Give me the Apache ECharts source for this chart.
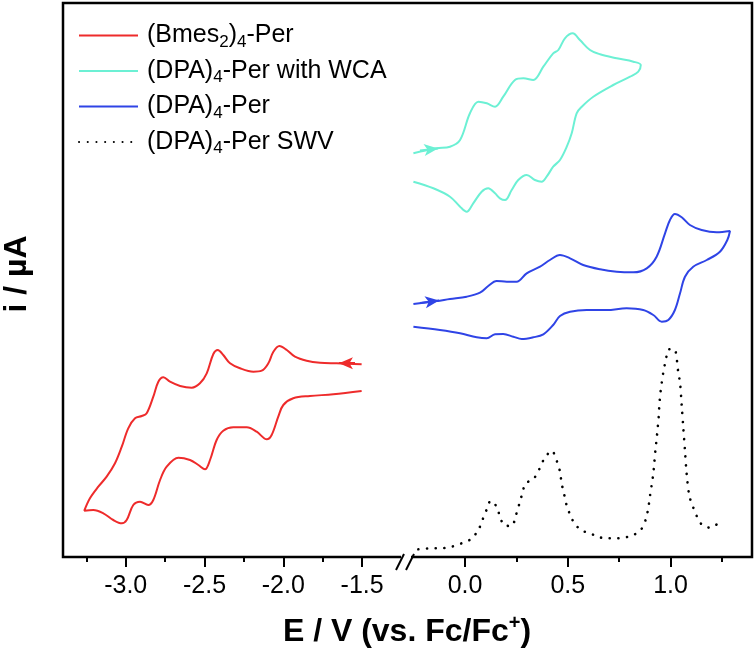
<!DOCTYPE html>
<html><head><meta charset="utf-8">
<script src="https://cdn.jsdelivr.net/npm/echarts@6/dist/echarts.min.js"></script>
<style>html,body{margin:0;padding:0;background:#fff}#c{width:756px;height:662px}</style>
</head><body><div id="c"></div>
<script>
// ---- data (E in V vs Fc/Fc+, i in arbitrary units) ----
const redE = [-1.503,-1.661,-1.767,-1.852,-1.926,-1.978,-2.025,-2.063,-2.095,-2.137,-2.190,-2.275,-2.338,-2.381,-2.416,-2.444,-2.486,-2.529,-2.581,-2.655,-2.719,-2.761,-2.793,-2.825,-2.867,-2.898,-2.941,-2.984,-3.025,-3.068,-3.121,-3.174,-3.227,-3.263,
  -3.206,-3.142,-3.079,-3.025,-2.994,-2.952,-2.909,-2.857,-2.825,-2.782,-2.740,-2.666,-2.592,-2.539,-2.497,-2.465,-2.423,-2.381,-2.317,-2.232,-2.169,-2.105,-2.074,-2.032,-2.000,-1.937,-1.831,-1.683,-1.503];
const redI = [192.7,193.7,194.3,196.3,200.3,207,211,205.3,193.7,186.3,185.3,188.7,193.7,202,207,203,183.7,173.7,169.3,171,175.3,179.7,175.3,160.3,143.7,141,138.7,128.7,110.3,93.7,80.3,70.3,58.7,46.3,
  47,43.7,37,33.7,37,52,55.3,52,57,77,90.3,99.3,97,92,87.7,97,117,126.3,129.7,129.7,125.3,117.7,122,140.3,152,158.7,161,162.7,166];

const wcaE = [-0.251,-0.138,-0.073,-0.024,0.024,0.065,0.106,0.146,0.186,0.243,0.284,0.332,0.381,0.429,0.454,0.486,0.524,0.559,0.608,0.657,0.738,0.819,0.855,
  0.843,0.803,0.721,0.624,0.568,0.543,0.519,0.495,0.462,0.429,0.397,0.373,0.340,0.300,0.259,0.227,0.195,0.170,0.146,0.113,0.081,0.040,0.008,-0.024,-0.073,-0.154,-0.251];
const wcaI = [403.7,408.7,410.3,417,443.7,455.3,453.7,450.3,460.3,477,478.7,477,490.3,503.7,507,518.7,523.7,517,507,502.7,498.7,495.3,492,
  485.3,480.3,472,460.3,450.3,443.7,423.7,410.3,397,390.3,380.3,375.3,377,382,377,367,357,358.7,363.7,368.7,365.3,353.7,345.3,350.3,360.3,368.7,375.3];

const dpaE = [-0.251,-0.138,-0.073,0.008,0.073,0.113,0.154,0.203,0.251,0.300,0.365,0.413,0.462,0.511,0.575,0.657,0.738,0.819,0.884,0.932,0.973,0.997,1.021,1.054,1.094,1.151,1.224,1.289,
  1.276,1.240,1.176,1.110,1.070,1.046,1.021,0.989,0.957,0.916,0.867,0.786,0.689,0.592,0.511,0.462,0.429,0.381,0.332,0.276,0.235,0.186,0.146,0.106,0.057,-0.024,-0.122,-0.251];
const dpaI = [253,256,258,260.3,264.3,271,276,275.3,275.3,283.7,290.3,297,302,298.7,292,287.7,285.3,284.7,288.7,300.3,323.7,337,343,339.7,332,327,324.7,326,
  317,305.3,297,290.3,280.3,263.7,247,237,235.3,242,247,248.7,247,247,245.3,241,232,222.7,219.7,218,220.3,223,222.7,218.7,219.7,223.7,227,230.3];

const swvE = [-0.227,-0.162,-0.118,-0.065,-0.016,0.028,0.065,0.086,0.106,0.125,0.154,0.170,0.191,0.227,0.248,0.264,0.279,0.295,0.332,0.361,0.384,0.422,0.446,0.462,0.470,0.483,0.495,0.514,0.535,0.572,0.605,0.643,0.692,0.738,0.783,0.819,0.855,0.880,0.892,0.900,0.908,0.916,0.921,0.926,0.932,0.937,0.942,0.945,0.950,0.957,0.965,0.976,0.992,1.018,1.031,1.037,1.046,1.054,1.062,1.070,1.078,1.091,1.110,1.130,1.154,1.192,1.232];
const swvI = [7.7,8.7,8.7,10.3,13.7,17.7,27,37.7,47.7,56.3,50.3,40.3,31.7,31,42,53,63.7,73.7,77.7,87.7,97.7,106.3,96.3,85.3,73.7,62,51.3,41,32.7,26,24.3,20.3,18.7,18.7,19.7,22,27,38,49.7,61.3,72,83.7,94.7,106.3,117.7,128.7,139.7,151,163,174.3,185,196.3,207.7,208,196.3,185,174.3,151.7,128.7,106.3,83.7,61.3,49.7,39.7,32,29.3,33.7];

// scan-direction arrows (from, to)
const redArrow = [[-1.545,193.8],[-1.647,193.8]];
const wcaArrow = [[-0.219,406.5],[-0.131,408.5]];
const dpaArrow = [[-0.219,254],[-0.126,256.5]];

const leftRange = [-3.398,-1.217];
const rightRange = [-0.2836,1.396];
const leftTicks = [-3.0,-2.5,-2.0,-1.5];
const leftMinor = [-3.25,-2.75,-2.25,-1.75];
const rightTicks = [0.0,0.5,1.0];
const rightMinor = [0.25,0.75,1.25];
const iRange = [0,554];

const names = ['(Bmes2)4-Per','(DPA)4-Per with WCA','(DPA)4-Per','(DPA)4-Per SWV'];
const richNames = {
  '(Bmes2)4-Per':'{n|(Bmes}{s|2}{n|)}{s|4}{n|-Per}',
  '(DPA)4-Per with WCA':'{n|(DPA)}{s|4}{n|-Per with WCA}',
  '(DPA)4-Per':'{n|(DPA)}{s|4}{n|-Per}',
  '(DPA)4-Per SWV':'{n|(DPA)}{s|4}{n|-Per SWV}'
};
const colors = {red:'#ee2b2b', cyan:'#6cf0d4', blue:'#2f44e6', black:'#000'};

function zip(a,b){return a.map((v,i)=>[v,b[i]]);}
const FONT = 'Liberation Sans, Arial, sans-serif';

function mkX(grid, range, ticks, minor){
  return {type:'value', gridIndex:grid, min:range[0], max:range[1], position:'bottom',
    axisLine:{show:false}, splitLine:{show:false}, minorTick:{show:false},
    axisTick:{show:true, inside:false, length: minor?5:10, lineStyle:{color:'#000', width:2}, customValues:ticks},
    axisLabel:{show:!minor, customValues:ticks, formatter:v=>v.toFixed(1), fontSize:25, fontFamily:FONT, color:'#000', margin:17}};
}
function mkArrow(arr, color){
  return {silent:true, symbol:['none','arrow'], symbolSize:[9,14], label:{show:false},
    lineStyle:{color:color, width:2, type:'solid'}, emphasis:{disabled:true},
    data:[[{coord:arr[0]},{coord:arr[1]}]]};
}

const chart = echarts.init(document.getElementById('c'), null, {renderer:'canvas'});
chart.setOption({
  animation:false,
  backgroundColor:'#fff',
  grid:[
    {left:63, right:756-406.7, top:3, bottom:662-557},
    {left:406.7, right:4, top:3, bottom:662-557}
  ],
  xAxis:[
    mkX(0, leftRange, leftTicks, false),
    mkX(0, leftRange, leftMinor, true),
    mkX(1, rightRange, rightTicks, false),
    mkX(1, rightRange, rightMinor, true)
  ],
  yAxis:[
    {type:'value', gridIndex:0, min:iRange[0], max:iRange[1], show:false},
    {type:'value', gridIndex:1, min:iRange[0], max:iRange[1], show:false}
  ],
  legend:{
    data:names, orient:'vertical', left:73, top:18, itemGap:8, itemWidth:59, itemHeight:14,
    selectedMode:false,
    itemStyle:{opacity:0, borderWidth:0, color:'rgba(0,0,0,0)'},
    formatter:n=>richNames[n],
    textStyle:{fontFamily:FONT, fontSize:25, color:'#000', padding:[0,0,0,4],
      rich:{n:{fontFamily:FONT, fontSize:25, color:'#000', lineHeight:30},
            s:{fontFamily:FONT, fontSize:17, color:'#000', lineHeight:30, verticalAlign:'bottom'}}}
  },
  series:[
    {name:names[0], type:'line', xAxisIndex:0, yAxisIndex:0, data:zip(redE,redI), showSymbol:false, symbol:'none', smooth:0.35,
      lineStyle:{color:colors.red, width:2}, itemStyle:{color:colors.red}, markLine:mkArrow(redArrow, colors.red)},
    {name:names[1], type:'line', xAxisIndex:2, yAxisIndex:1, data:zip(wcaE,wcaI), showSymbol:false, symbol:'none', smooth:0.35,
      lineStyle:{color:colors.cyan, width:2}, itemStyle:{color:colors.cyan}, markLine:mkArrow(wcaArrow, colors.cyan)},
    {name:names[2], type:'line', xAxisIndex:2, yAxisIndex:1, data:zip(dpaE,dpaI), showSymbol:false, symbol:'none', smooth:0.35,
      lineStyle:{color:colors.blue, width:2}, itemStyle:{color:colors.blue}, markLine:mkArrow(dpaArrow, colors.blue)},
    {name:names[3], type:'line', xAxisIndex:2, yAxisIndex:1, data:zip(swvE,swvI), showSymbol:false, symbol:'none', smooth:0.3,
      lineStyle:{color:'#000', width:2.6, type:[0.1,8.6], cap:'round'}, itemStyle:{color:'#000'}}
  ],
  graphic:[
    {type:'rect', z:100, shape:{x:63, y:3, width:689, height:554}, style:{fill:null, stroke:'#000', lineWidth:2.5}, silent:true},
    {type:'rect', z:101, shape:{x:401, y:553, width:10, height:8}, style:{fill:'#fff', stroke:null}, silent:true},
    {type:'line', z:102, shape:{x1:396, y1:570, x2:404, y2:554}, style:{stroke:'#000', lineWidth:2}, silent:true},
    {type:'line', z:102, shape:{x1:406, y1:570, x2:414, y2:554}, style:{stroke:'#000', lineWidth:2}, silent:true},
    {type:'text', z:102, x:407, y:632, silent:true, style:{
      text:'{a|E / V (vs. Fc/Fc}{b|+}{a|)}', align:'center', verticalAlign:'middle',
      rich:{a:{fontFamily:FONT, fontSize:32, fontWeight:'bold', fill:'#000', lineHeight:38},
            b:{fontFamily:FONT, fontSize:20, fontWeight:'bold', fill:'#000', lineHeight:38, verticalAlign:'top'}}}},
    {type:'text', z:102, x:17, y:274, rotation:Math.PI/2, silent:true, style:{
      text:'i / µA', align:'center', verticalAlign:'middle', fontFamily:FONT, fontSize:32, fontWeight:'bold', fill:'#000'}}
  ]
});
</script>
</body></html>
